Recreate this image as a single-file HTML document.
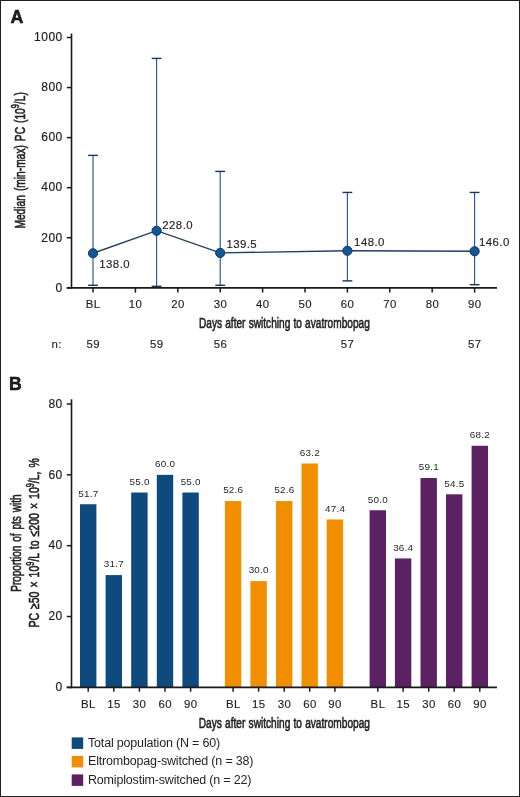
<!DOCTYPE html><html><head><meta charset="utf-8"><style>html,body{margin:0;padding:0;background:#fff;width:520px;height:797px;overflow:hidden}svg{display:block;will-change:transform}text{font-family:"Liberation Sans",sans-serif;fill:#231f20}.r{font-size:11.4px;letter-spacing:0.45px;stroke:#231f20;stroke-width:0.15px}.t{font-size:12px;letter-spacing:0.5px;stroke:#231f20;stroke-width:0.2px}</style></head><body>
<svg width="520" height="797" viewBox="0 0 520 797">
<rect x="0" y="0" width="520" height="797" fill="#fff"/>
<rect x="0.5" y="0.5" width="519" height="796" fill="none" stroke="#202020" stroke-width="1"/>
<text x="10.6" y="23.2" font-size="17.8" font-weight="bold" fill="#000" stroke="#000" stroke-width="0.5">A</text>
<text x="9" y="390" font-size="17.5" font-weight="bold" fill="#000" stroke="#000" stroke-width="0.5">B</text>
<line x1="71.5" y1="33.5" x2="71.5" y2="288.6" stroke="#1a1a1a" stroke-width="1.6"/>
<line x1="66.8" y1="287.8" x2="497" y2="287.8" stroke="#1a1a1a" stroke-width="1.8"/>
<line x1="66.8" y1="287.80" x2="71.5" y2="287.80" stroke="#1a1a1a" stroke-width="1.5"/>
<text x="62.8" y="291.60" class="t" text-anchor="end">0</text>
<line x1="66.8" y1="237.74" x2="71.5" y2="237.74" stroke="#1a1a1a" stroke-width="1.5"/>
<text x="62.8" y="241.54" class="t" text-anchor="end">200</text>
<line x1="66.8" y1="187.68" x2="71.5" y2="187.68" stroke="#1a1a1a" stroke-width="1.5"/>
<text x="62.8" y="191.48" class="t" text-anchor="end">400</text>
<line x1="66.8" y1="137.62" x2="71.5" y2="137.62" stroke="#1a1a1a" stroke-width="1.5"/>
<text x="62.8" y="141.42" class="t" text-anchor="end">600</text>
<line x1="66.8" y1="87.56" x2="71.5" y2="87.56" stroke="#1a1a1a" stroke-width="1.5"/>
<text x="62.8" y="91.36" class="t" text-anchor="end">800</text>
<line x1="66.8" y1="37.50" x2="71.5" y2="37.50" stroke="#1a1a1a" stroke-width="1.5"/>
<text x="62.8" y="41.30" class="t" text-anchor="end">1000</text>
<line x1="93.00" y1="287.8" x2="93.00" y2="292.6" stroke="#1a1a1a" stroke-width="1.5"/>
<text x="93.22" y="308.0" class="r" text-anchor="middle">BL</text>
<line x1="135.40" y1="287.8" x2="135.40" y2="292.6" stroke="#1a1a1a" stroke-width="1.5"/>
<text x="135.62" y="308.0" class="r" text-anchor="middle">10</text>
<line x1="177.80" y1="287.8" x2="177.80" y2="292.6" stroke="#1a1a1a" stroke-width="1.5"/>
<text x="178.02" y="308.0" class="r" text-anchor="middle">20</text>
<line x1="220.20" y1="287.8" x2="220.20" y2="292.6" stroke="#1a1a1a" stroke-width="1.5"/>
<text x="220.42" y="308.0" class="r" text-anchor="middle">30</text>
<line x1="262.60" y1="287.8" x2="262.60" y2="292.6" stroke="#1a1a1a" stroke-width="1.5"/>
<text x="262.82" y="308.0" class="r" text-anchor="middle">40</text>
<line x1="305.00" y1="287.8" x2="305.00" y2="292.6" stroke="#1a1a1a" stroke-width="1.5"/>
<text x="305.22" y="308.0" class="r" text-anchor="middle">50</text>
<line x1="347.40" y1="287.8" x2="347.40" y2="292.6" stroke="#1a1a1a" stroke-width="1.5"/>
<text x="347.62" y="308.0" class="r" text-anchor="middle">60</text>
<line x1="389.80" y1="287.8" x2="389.80" y2="292.6" stroke="#1a1a1a" stroke-width="1.5"/>
<text x="390.02" y="308.0" class="r" text-anchor="middle">70</text>
<line x1="432.20" y1="287.8" x2="432.20" y2="292.6" stroke="#1a1a1a" stroke-width="1.5"/>
<text x="432.42" y="308.0" class="r" text-anchor="middle">80</text>
<line x1="474.60" y1="287.8" x2="474.60" y2="292.6" stroke="#1a1a1a" stroke-width="1.5"/>
<text x="474.82" y="308.0" class="r" text-anchor="middle">90</text>
<text x="199" y="328.2" font-size="14" stroke="#231f20" stroke-width="0.6" word-spacing="0.5" textLength="170.8" lengthAdjust="spacingAndGlyphs">Days after switching to avatrombopag</text>
<text x="51.5" y="347.8" class="r">n:</text>
<text x="93.22" y="347.8" class="r" text-anchor="middle">59</text>
<text x="156.82" y="347.8" class="r" text-anchor="middle">59</text>
<text x="220.42" y="347.8" class="r" text-anchor="middle">56</text>
<text x="347.62" y="347.8" class="r" text-anchor="middle">57</text>
<text x="474.82" y="347.8" class="r" text-anchor="middle">57</text>
<line x1="93.00" y1="155.39" x2="93.00" y2="285.30" stroke="#27578a" stroke-width="1.15"/>
<line x1="88.10" y1="155.39" x2="97.90" y2="155.39" stroke="#1a3556" stroke-width="1.4"/>
<line x1="88.10" y1="285.30" x2="97.90" y2="285.30" stroke="#1a3556" stroke-width="1.4"/>
<line x1="156.60" y1="58.40" x2="156.60" y2="286.30" stroke="#27578a" stroke-width="1.15"/>
<line x1="151.70" y1="58.40" x2="161.50" y2="58.40" stroke="#1a3556" stroke-width="1.4"/>
<line x1="151.70" y1="286.30" x2="161.50" y2="286.30" stroke="#1a3556" stroke-width="1.4"/>
<line x1="220.20" y1="171.41" x2="220.20" y2="285.30" stroke="#27578a" stroke-width="1.15"/>
<line x1="215.30" y1="171.41" x2="225.10" y2="171.41" stroke="#1a3556" stroke-width="1.4"/>
<line x1="215.30" y1="285.30" x2="225.10" y2="285.30" stroke="#1a3556" stroke-width="1.4"/>
<line x1="347.40" y1="192.44" x2="347.40" y2="280.89" stroke="#27578a" stroke-width="1.15"/>
<line x1="342.50" y1="192.44" x2="352.30" y2="192.44" stroke="#1a3556" stroke-width="1.4"/>
<line x1="342.50" y1="280.89" x2="352.30" y2="280.89" stroke="#1a3556" stroke-width="1.4"/>
<line x1="474.60" y1="192.44" x2="474.60" y2="284.70" stroke="#27578a" stroke-width="1.15"/>
<line x1="469.70" y1="192.44" x2="479.50" y2="192.44" stroke="#1a3556" stroke-width="1.4"/>
<line x1="469.70" y1="284.70" x2="479.50" y2="284.70" stroke="#1a3556" stroke-width="1.4"/>
<polyline points="93.00,253.26 156.60,230.73 220.20,252.88 347.40,250.76 474.60,251.26" fill="none" stroke="#213f60" stroke-width="1.35"/>
<circle cx="93.00" cy="253.26" r="4.6" fill="#165593" stroke="#0c3a68" stroke-width="1"/>
<circle cx="156.60" cy="230.73" r="4.6" fill="#165593" stroke="#0c3a68" stroke-width="1"/>
<circle cx="220.20" cy="252.88" r="4.6" fill="#165593" stroke="#0c3a68" stroke-width="1"/>
<circle cx="347.40" cy="250.76" r="4.6" fill="#165593" stroke="#0c3a68" stroke-width="1"/>
<circle cx="474.60" cy="251.26" r="4.6" fill="#165593" stroke="#0c3a68" stroke-width="1"/>
<text x="99.3" y="267.9" class="r">138.0</text>
<text x="162.3" y="228.7" class="r">228.0</text>
<text x="226.4" y="248.3" class="r">139.5</text>
<text x="354.1" y="245.8" class="r">148.0</text>
<text x="479" y="246" class="r">146.0</text>
<text transform="translate(24.6,228.6) rotate(-90)" font-size="14" stroke="#231f20" stroke-width="0.6" word-spacing="1.5" textLength="136.4" lengthAdjust="spacingAndGlyphs">Median (min-max) PC (10<tspan font-size="10" dy="-5.5">9</tspan><tspan dy="5.5">/L)</tspan></text>
<line x1="71.5" y1="399.3" x2="71.5" y2="688.1999999999999" stroke="#1a1a1a" stroke-width="1.6"/>
<line x1="66.8" y1="687.40" x2="71.5" y2="687.40" stroke="#1a1a1a" stroke-width="1.5"/>
<text x="62.8" y="691.20" class="t" text-anchor="end">0</text>
<line x1="66.8" y1="616.54" x2="71.5" y2="616.54" stroke="#1a1a1a" stroke-width="1.5"/>
<text x="62.8" y="620.34" class="t" text-anchor="end">20</text>
<line x1="66.8" y1="545.68" x2="71.5" y2="545.68" stroke="#1a1a1a" stroke-width="1.5"/>
<text x="62.8" y="549.48" class="t" text-anchor="end">40</text>
<line x1="66.8" y1="474.82" x2="71.5" y2="474.82" stroke="#1a1a1a" stroke-width="1.5"/>
<text x="62.8" y="478.62" class="t" text-anchor="end">60</text>
<line x1="66.8" y1="403.96" x2="71.5" y2="403.96" stroke="#1a1a1a" stroke-width="1.5"/>
<text x="62.8" y="407.76" class="t" text-anchor="end">80</text>
<rect x="80.00" y="504.23" width="16.4" height="183.17" fill="#0f4a7e"/>
<text x="88.35" y="496.53" font-size="9.9" letter-spacing="0.25" text-anchor="middle">51.7</text>
<line x1="88.20" y1="687.4" x2="88.20" y2="691.6999999999999" stroke="#1a1a1a" stroke-width="1.5"/>
<text x="88.42" y="707.5" class="r" text-anchor="middle">BL</text>
<rect x="105.60" y="575.09" width="16.4" height="112.31" fill="#0f4a7e"/>
<text x="113.95" y="567.39" font-size="9.9" letter-spacing="0.25" text-anchor="middle">31.7</text>
<line x1="113.80" y1="687.4" x2="113.80" y2="691.6999999999999" stroke="#1a1a1a" stroke-width="1.5"/>
<text x="114.02" y="707.5" class="r" text-anchor="middle">15</text>
<rect x="131.20" y="492.53" width="16.4" height="194.87" fill="#0f4a7e"/>
<text x="139.55" y="484.83" font-size="9.9" letter-spacing="0.25" text-anchor="middle">55.0</text>
<line x1="139.40" y1="687.4" x2="139.40" y2="691.6999999999999" stroke="#1a1a1a" stroke-width="1.5"/>
<text x="139.62" y="707.5" class="r" text-anchor="middle">30</text>
<rect x="156.80" y="474.82" width="16.4" height="212.58" fill="#0f4a7e"/>
<text x="165.15" y="467.12" font-size="9.9" letter-spacing="0.25" text-anchor="middle">60.0</text>
<line x1="165.00" y1="687.4" x2="165.00" y2="691.6999999999999" stroke="#1a1a1a" stroke-width="1.5"/>
<text x="165.22" y="707.5" class="r" text-anchor="middle">60</text>
<rect x="182.40" y="492.53" width="16.4" height="194.87" fill="#0f4a7e"/>
<text x="190.75" y="484.83" font-size="9.9" letter-spacing="0.25" text-anchor="middle">55.0</text>
<line x1="190.60" y1="687.4" x2="190.60" y2="691.6999999999999" stroke="#1a1a1a" stroke-width="1.5"/>
<text x="190.82" y="707.5" class="r" text-anchor="middle">90</text>
<rect x="224.90" y="501.04" width="16.4" height="186.36" fill="#f28f00"/>
<text x="233.25" y="493.34" font-size="9.9" letter-spacing="0.25" text-anchor="middle">52.6</text>
<line x1="233.10" y1="687.4" x2="233.10" y2="691.6999999999999" stroke="#1a1a1a" stroke-width="1.5"/>
<text x="233.32" y="707.5" class="r" text-anchor="middle">BL</text>
<rect x="250.40" y="581.11" width="16.4" height="106.29" fill="#f28f00"/>
<text x="258.75" y="573.41" font-size="9.9" letter-spacing="0.25" text-anchor="middle">30.0</text>
<line x1="258.60" y1="687.4" x2="258.60" y2="691.6999999999999" stroke="#1a1a1a" stroke-width="1.5"/>
<text x="258.82" y="707.5" class="r" text-anchor="middle">15</text>
<rect x="276.00" y="501.04" width="16.4" height="186.36" fill="#f28f00"/>
<text x="284.35" y="493.34" font-size="9.9" letter-spacing="0.25" text-anchor="middle">52.6</text>
<line x1="284.20" y1="687.4" x2="284.20" y2="691.6999999999999" stroke="#1a1a1a" stroke-width="1.5"/>
<text x="284.42" y="707.5" class="r" text-anchor="middle">30</text>
<rect x="301.50" y="463.48" width="16.4" height="223.92" fill="#f28f00"/>
<text x="309.85" y="455.78" font-size="9.9" letter-spacing="0.25" text-anchor="middle">63.2</text>
<line x1="309.70" y1="687.4" x2="309.70" y2="691.6999999999999" stroke="#1a1a1a" stroke-width="1.5"/>
<text x="309.92" y="707.5" class="r" text-anchor="middle">60</text>
<rect x="326.70" y="519.46" width="16.4" height="167.94" fill="#f28f00"/>
<text x="335.05" y="511.76" font-size="9.9" letter-spacing="0.25" text-anchor="middle">47.4</text>
<line x1="334.90" y1="687.4" x2="334.90" y2="691.6999999999999" stroke="#1a1a1a" stroke-width="1.5"/>
<text x="335.12" y="707.5" class="r" text-anchor="middle">90</text>
<rect x="369.60" y="510.25" width="16.4" height="177.15" fill="#5c2163"/>
<text x="377.95" y="502.55" font-size="9.9" letter-spacing="0.25" text-anchor="middle">50.0</text>
<line x1="377.80" y1="687.4" x2="377.80" y2="691.6999999999999" stroke="#1a1a1a" stroke-width="1.5"/>
<text x="378.02" y="707.5" class="r" text-anchor="middle">BL</text>
<rect x="394.90" y="558.43" width="16.4" height="128.97" fill="#5c2163"/>
<text x="403.25" y="550.73" font-size="9.9" letter-spacing="0.25" text-anchor="middle">36.4</text>
<line x1="403.10" y1="687.4" x2="403.10" y2="691.6999999999999" stroke="#1a1a1a" stroke-width="1.5"/>
<text x="403.32" y="707.5" class="r" text-anchor="middle">15</text>
<rect x="420.50" y="478.01" width="16.4" height="209.39" fill="#5c2163"/>
<text x="428.85" y="470.31" font-size="9.9" letter-spacing="0.25" text-anchor="middle">59.1</text>
<line x1="428.70" y1="687.4" x2="428.70" y2="691.6999999999999" stroke="#1a1a1a" stroke-width="1.5"/>
<text x="428.92" y="707.5" class="r" text-anchor="middle">30</text>
<rect x="446.00" y="494.31" width="16.4" height="193.09" fill="#5c2163"/>
<text x="454.35" y="486.61" font-size="9.9" letter-spacing="0.25" text-anchor="middle">54.5</text>
<line x1="454.20" y1="687.4" x2="454.20" y2="691.6999999999999" stroke="#1a1a1a" stroke-width="1.5"/>
<text x="454.42" y="707.5" class="r" text-anchor="middle">60</text>
<rect x="471.60" y="445.77" width="16.4" height="241.63" fill="#5c2163"/>
<text x="479.95" y="438.07" font-size="9.9" letter-spacing="0.25" text-anchor="middle">68.2</text>
<line x1="479.80" y1="687.4" x2="479.80" y2="691.6999999999999" stroke="#1a1a1a" stroke-width="1.5"/>
<text x="480.02" y="707.5" class="r" text-anchor="middle">90</text>
<line x1="66.8" y1="687.4" x2="497" y2="687.4" stroke="#1a1a1a" stroke-width="1.8"/>
<text x="198.8" y="727.5" font-size="14" stroke="#231f20" stroke-width="0.6" word-spacing="0.5" textLength="171.2" lengthAdjust="spacingAndGlyphs">Days after switching to avatrombopag</text>
<text transform="translate(21.3,591.8) rotate(-90)" font-size="14" stroke="#231f20" stroke-width="0.6" word-spacing="1.5" textLength="97.3" lengthAdjust="spacingAndGlyphs">Proportion of pts with</text>
<text transform="translate(39,627.6) rotate(-90)" font-size="14" stroke="#231f20" stroke-width="0.6" word-spacing="1.5" textLength="169.5" lengthAdjust="spacingAndGlyphs">PC ≥50 × 10<tspan font-size="10" dy="-5.5">9</tspan><tspan dy="5.5">/L to ≤200 × 10</tspan><tspan font-size="10" dy="-5.5">9</tspan><tspan dy="5.5">/L, %</tspan></text>
<rect x="71.7" y="737.40" width="11.5" height="11.5" fill="#0f4a7e"/>
<text x="88" y="746.80" font-size="12.5" letter-spacing="-0.18">Total population (N = 60)</text>
<rect x="71.7" y="755.90" width="11.5" height="11.5" fill="#f28f00"/>
<text x="88" y="765.30" font-size="12.5" letter-spacing="-0.18">Eltrombopag-switched (n = 38)</text>
<rect x="71.7" y="774.40" width="11.5" height="11.5" fill="#5c2163"/>
<text x="88" y="783.80" font-size="12.5" letter-spacing="-0.18">Romiplostim-switched (n = 22)</text>
</svg></body></html>
